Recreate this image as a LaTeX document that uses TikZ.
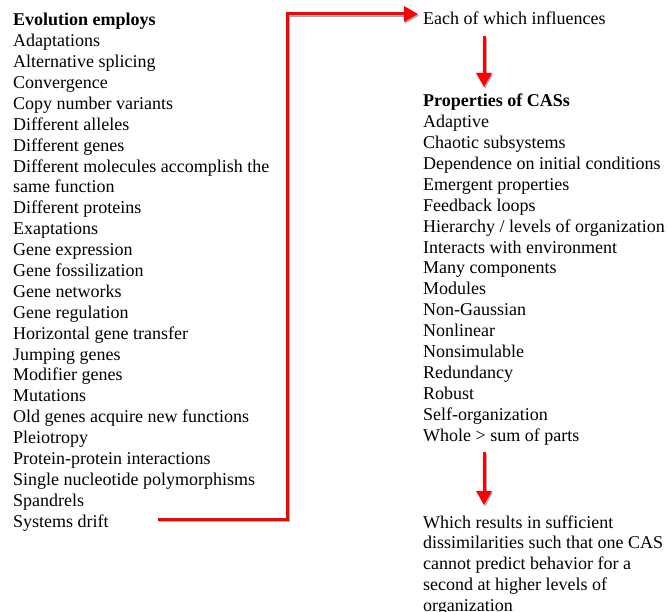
\documentclass[tikz,border=0pt]{standalone}
\usepackage{fontspec}
\setmainfont{Liberation Serif}
\usetikzlibrary{arrows.meta,calc}
\begin{document}
\begin{tikzpicture}[x=1pt,y=-1pt,
  item/.style={anchor=base west,inner sep=0pt,font=\fontsize{18}{20.875}\selectfont},
  head/.style={item,font=\fontsize{18}{20.875}\selectfont\bfseries},
  redarrow/.style={draw=red,line width=3pt,
    preaction={draw=black!35,line width=3pt,transform canvas={shift={(1pt,-1.6pt)}}}},
  tipped/.style={-{Triangle[length=14pt,width=15pt]}}]
\useasboundingbox[fill=white] (0,0) rectangle (669,612);

% left column
\node[head] (L0) at (13,26) {Evolution employs};
\foreach \t [count=\i] in {Adaptations,Alternative splicing,Convergence,Copy number variants,Different alleles,Different genes,Different molecules accomplish the,same function,Different proteins,Exaptations,Gene expression,Gene fossilization,Gene networks,Gene regulation,Horizontal gene transfer,Jumping genes,Modifier genes,Mutations,Old genes acquire new functions,Pleiotropy,Protein-protein interactions,Single nucleotide polymorphisms,Spandrels}
  \node[item] (L\i) at (13,{26+\i*20.875}) {\t};
\node[item] (drift) at (13,{26+24*20.875}) {Systems drift};

% right column
\node[item] (each) at (423,25) {Each of which influences};
\node[head] (props) at (423,107) {Properties of CASs};
\foreach \t [count=\i] in {Adaptive,Chaotic subsystems,Dependence on initial conditions,Emergent properties,Feedback loops,Hierarchy / levels of organization,Interacts with environment,Many components,Modules,Non-Gaussian,Nonlinear,Nonsimulable,Redundancy,Robust,Self-organization}
  \node[item] (P\i) at (423,{107+\i*20.875}) {\t};
\node[item] (whole) at (423,{107+16*20.875}) {Whole > sum of parts};

\node[item] (F1) at (423,528) {Which results in sufficient};
\node[item] (F2) at (423,{528+20.875}) {dissimilarities such that one CAS};
\node[item] (F3) at (423,{528+2*20.875}) {cannot predict behavior for a};
\node[item] (F4) at (423,{528+3*20.875}) {second at higher levels of};
\node[item] (F5) at (423,{528+4*20.875}) {organization};

% connectors
\coordinate (bx) at (287,0);
\coordinate (ax) at (484,0);
\draw[redarrow,tipped] ([xshift=49pt,yshift=8pt]drift.base east) -- ([yshift=8pt]drift.base -| bx)
  |- ([xshift=-5pt,yshift=11pt]each.base west);
\draw[redarrow,tipped] ([yshift=-11pt]each.base -| ax) -- ([yshift=20pt]props.base -| ax);
\draw[redarrow,tipped] ([yshift=-11pt]whole.base -| ax) -- ([yshift=23pt]F1.base -| ax);
\end{tikzpicture}
\end{document}
